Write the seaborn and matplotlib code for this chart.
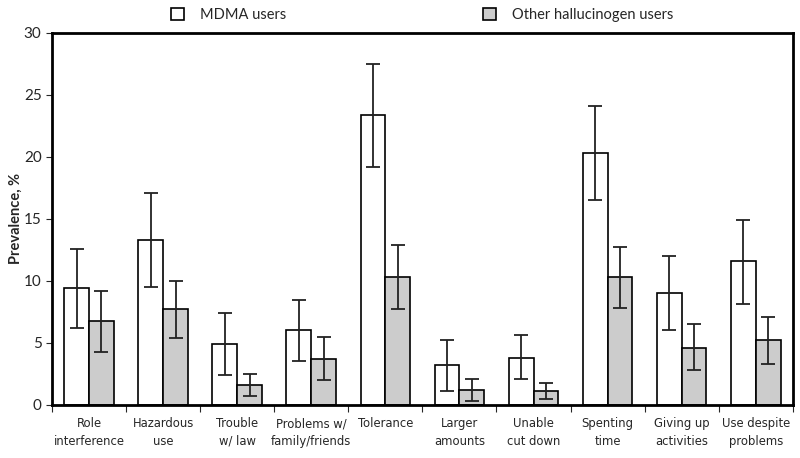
import numpy as np
import pandas as pd
import seaborn as sns
import matplotlib.pyplot as plt
from matplotlib.ticker import FixedLocator

# ---------------------------------------------------------------------------
# Data (prevalence %, with 95% CI bounds)
# ---------------------------------------------------------------------------
criteria = ["Role\ninterference", "Hazardous\nuse", "Trouble\nw/ law",
            "Problems w/\nfamily/friends", "Tolerance", "Larger\namounts",
            "Unable\ncut down", "Spenting\ntime", "Giving up\nactivities",
            "Use despite\nproblems"]
groups = ["MDMA users", "Other hallucinogen users"]

mdma = [9.4, 13.3, 4.9, 6.0, 23.4, 3.2, 3.8, 20.3, 9.0, 11.6]
mdma_lo = [6.2, 9.5, 2.4, 3.5, 19.2, 1.1, 2.1, 16.5, 6.0, 8.1]
mdma_hi = [12.6, 17.1, 7.4, 8.5, 27.5, 5.2, 5.6, 24.1, 12.0, 14.9]

other = [6.8, 7.7, 1.6, 3.7, 10.3, 1.2, 1.1, 10.3, 4.6, 5.2]
other_lo = [4.3, 5.4, 0.7, 2.0, 7.7, 0.3, 0.5, 7.8, 2.8, 3.3]
other_hi = [9.2, 10.0, 2.5, 5.5, 12.9, 2.1, 1.8, 12.7, 6.5, 7.1]

df = pd.DataFrame({
    "criterion": criteria * 2,
    "group": [groups[0]] * len(criteria) + [groups[1]] * len(criteria),
    "value": mdma + other,
    "lo": mdma_lo + other_lo,
    "hi": mdma_hi + other_hi,
})

# ---------------------------------------------------------------------------
# Plot
# ---------------------------------------------------------------------------
sns.set_style("white")
plt.rcParams["font.family"] = ["Lato", "DejaVu Sans"]

fig = plt.figure(figsize=(8, 4.58), dpi=100)
ax = fig.add_axes([0.065, 0.116, 0.926, 0.812])

sns.barplot(data=df, x="criterion", y="value", hue="group",
            palette=["white", "#cccccc"], edgecolor="black", linewidth=1.2,
            width=0.67, errorbar=None, ax=ax)

# error bars at the centre of each bar
for container, (_, sub) in zip(ax.containers, df.groupby("group", sort=False)):
    xs = [p.get_x() + p.get_width() / 2 for p in container.patches]
    vals = sub["value"].to_numpy()
    yerr = [vals - sub["lo"].to_numpy(), sub["hi"].to_numpy() - vals]
    ax.errorbar(xs, vals, yerr=yerr, fmt="none", ecolor="#222222",
                elinewidth=1.3, capsize=5, capthick=1.3)

ax.set_ylim(0, 30)
ax.set_xlim(-0.5, len(criteria) - 0.5)
ax.set_yticks(range(0, 31, 5))
ax.set_ylabel("Prevalence, %", fontsize=10.5, fontweight="bold")
ax.yaxis.set_label_coords(-0.04, 0.5)
ax.set_xlabel("")

# category labels at centres, tick marks at group boundaries
ax.tick_params(axis="x", which="major", length=0, pad=9)
ax.xaxis.set_minor_locator(FixedLocator(np.arange(-0.5, len(criteria), 1.0)))
ax.tick_params(axis="x", which="minor", length=5, width=0.8, direction="out",
               bottom=True)
ax.tick_params(axis="y", length=4, width=0.8, direction="out", left=True,
               labelsize=11)
for lab in ax.get_xticklabels():
    lab.set_family(["DejaVu Sans"])
    lab.set_fontstretch("condensed")
    lab.set_fontsize(9.3)
    lab.set_linespacing(1.45)

for spine in ax.spines.values():
    spine.set_linewidth(2)
    spine.set_color("black")

ax.legend_.remove()
handles, labels = ax.get_legend_handles_labels()
fig.legend(handles[:2], labels[:2], loc="center",
           bbox_to_anchor=(0.528, 1 - 15 / 458), ncol=2,
           frameon=False, fontsize=10.5, columnspacing=13.5,
           handlelength=0.9, handleheight=0.9, handletextpad=1.1,
           borderpad=0)

fig.savefig("out.png", dpi=100)
